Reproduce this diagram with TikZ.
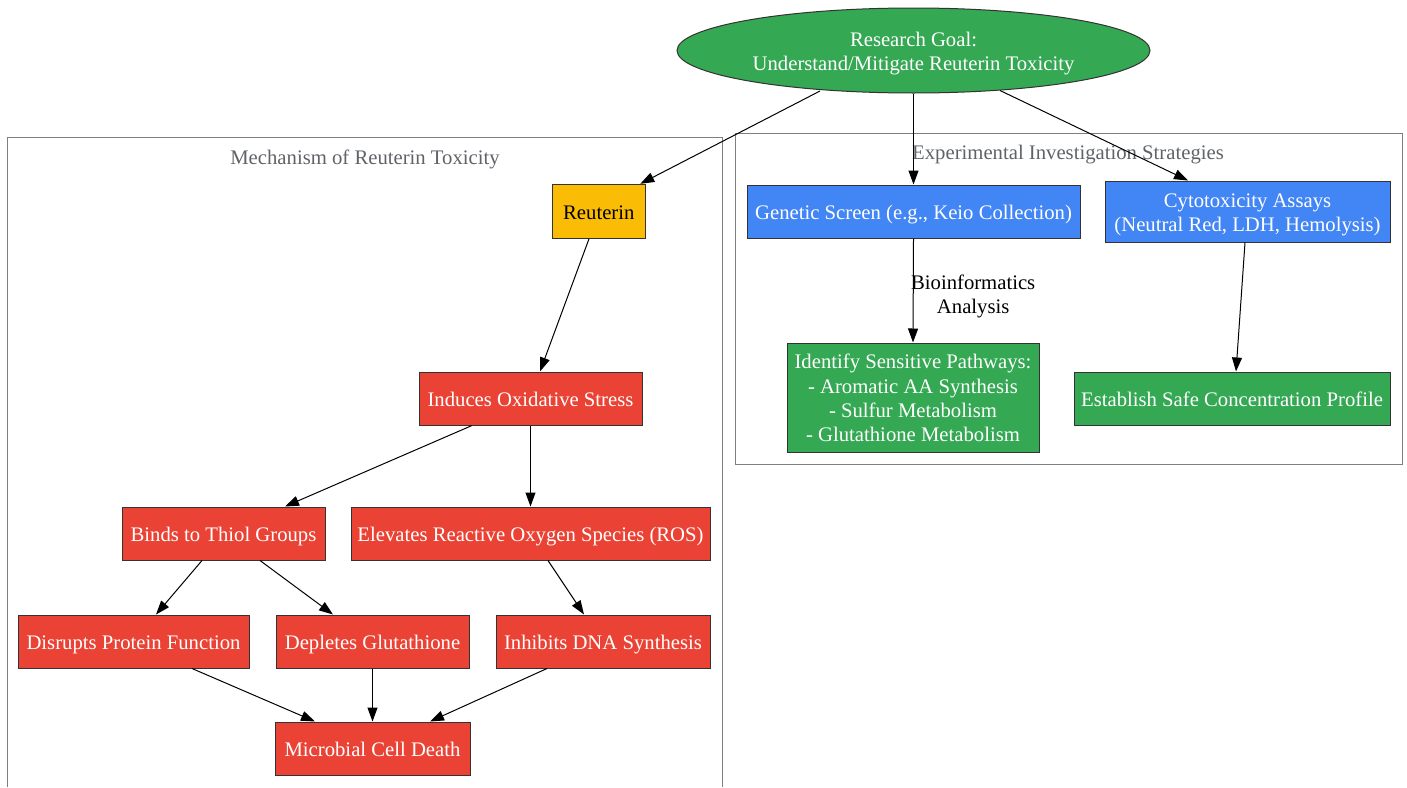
\documentclass[tikz,border=0pt]{standalone}
\usepackage{fontspec}
\setmainfont{Liberation Serif}
\usetikzlibrary{arrows.meta,shapes.geometric}
\definecolor{gred}{HTML}{EA4335}
\definecolor{ggreen}{HTML}{34A853}
\definecolor{gblue}{HTML}{4285F4}
\definecolor{gyellow}{HTML}{FBBC05}
\definecolor{ggray}{HTML}{5F6368}
\definecolor{cborder}{HTML}{7F7F7F}
\newcommand{\lowtext}[1]{\raisebox{-3pt}[\height][\depth]{\begin{tabular}{@{}c@{}}#1\end{tabular}}}
\begin{document}
\begin{tikzpicture}[x=1pt,y=-1pt,
  font=\fontsize{20.7}{24.3}\selectfont,
  box/.style={draw=black!80, line width=1pt, rectangle, inner sep=0pt, text=white},
  redbox/.style={box, fill=gred},
  greenbox/.style={box, fill=ggreen},
  bluebox/.style={box, fill=gblue},
  edge/.style={-{Triangle[length=14pt,width=10pt]}, line width=1pt},
  cluster/.style={draw=cborder, line width=1pt},
  clabel/.style={text=ggray}]
\useasboundingbox (0,0) rectangle (1407,787);

% clusters
\draw[cluster] (7,787) -- (7,137) -- (722,137) -- (722,787);
\node[clabel] (lmech) at (365,157) {\lowtext{Mechanism of Reuterin Toxicity}};
\draw[cluster] (735,133) rectangle (1402,464);
\node[clabel] (lexp) at (1068,152) {\lowtext{Experimental Investigation Strategies}};

% goal
\node[ellipse, draw=black!80, line width=1pt, fill=ggreen, text=white,
      minimum width=473pt, minimum height=85pt, inner sep=0pt] (goal) at (913.5,50.5)
  {\lowtext{Research Goal:\\Understand/Mitigate Reuterin Toxicity}};

% mechanism nodes
\node[box, fill=gyellow, text=black, minimum width=92.5pt, minimum height=54pt] (reut) at (598.8,211.3) {\lowtext{Reuterin}};
\node[redbox, minimum width=223pt, minimum height=53pt] (ox) at (530.5,398.5) {\lowtext{Induces Oxidative Stress}};
\node[redbox, minimum width=203pt, minimum height=53pt] (thiol) at (223.5,533.5) {\lowtext{Binds to Thiol Groups}};
\node[redbox, minimum width=359pt, minimum height=53pt] (ros) at (530.5,533.5) {\lowtext{Elevates Reactive Oxygen Species (ROS)}};
\node[redbox, minimum width=231pt, minimum height=53pt] (prot) at (133.5,641.5) {\lowtext{Disrupts Protein Function}};
\node[redbox, minimum width=193pt, minimum height=53pt] (glut) at (372.5,641.5) {\lowtext{Depletes Glutathione}};
\node[redbox, minimum width=214pt, minimum height=53pt] (dna) at (603,641.5) {\lowtext{Inhibits DNA Synthesis}};
\node[redbox, minimum width=195pt, minimum height=53pt] (death) at (372.5,748.5) {\lowtext{Microbial Cell Death}};

% experimental nodes
\node[bluebox, minimum width=333pt, minimum height=53pt] (gen) at (913.5,211.5) {\lowtext{Genetic Screen (e.g., Keio Collection)}};
\node[bluebox, minimum width=285pt, minimum height=61pt] (cyto) at (1247.5,211.5) {\lowtext{Cytotoxicity Assays\\(Neutral Red, LDH, Hemolysis)}};
\node[greenbox, minimum width=252pt, minimum height=109pt] (path) at (913,397.5)
  {\lowtext{Identify Sensitive Pathways:\\- Aromatic AA Synthesis\\- Sulfur Metabolism\\- Glutathione Metabolism}};
\node[greenbox, minimum width=316pt, minimum height=53pt] (safe) at (1232,398.5) {\lowtext{Establish Safe Concentration Profile}};

% edges
\draw[edge] ([shift={(-93.5,40.5)}]goal.center) -- ([xshift=41.5pt]reut.north);
\draw[edge] (goal.south) -- (gen.north);
\draw[edge] ([shift={(86.5,40)}]goal.center) -- ([xshift=-59.5pt]cyto.north);
\draw[edge] ([xshift=-9.8pt]reut.south) -- ([xshift=9.5pt]ox.north);
\draw[edge] ([xshift=-58.5pt]ox.south) -- ([xshift=61.5pt]thiol.north);
\draw[edge] (ox.south) -- (ros.north);
\draw[edge] ([xshift=-21.5pt]thiol.south) -- ([xshift=22.5pt]prot.north);
\draw[edge] ([xshift=36.5pt]thiol.south) -- ([xshift=-39.5pt]glut.north);
\draw[edge] ([xshift=17.5pt]ros.south) -- ([xshift=-19pt]dna.north);
\draw[edge] ([xshift=58.5pt]prot.south) -- ([xshift=-57.5pt]death.north);
\draw[edge] (glut.south) -- (death.north);
\draw[edge] ([xshift=-56pt]dna.south) -- ([xshift=57.5pt]death.north);
\draw[edge] (gen.south) -- node[pos=0.5, right=-6pt, yshift=-3pt, text=black] (lbl) {\lowtext{Bioinformatics\\Analysis}} (path.north);
\draw[edge] ([xshift=-2.5pt]cyto.south) -- ([xshift=4pt]safe.north);
\end{tikzpicture}
\end{document}
